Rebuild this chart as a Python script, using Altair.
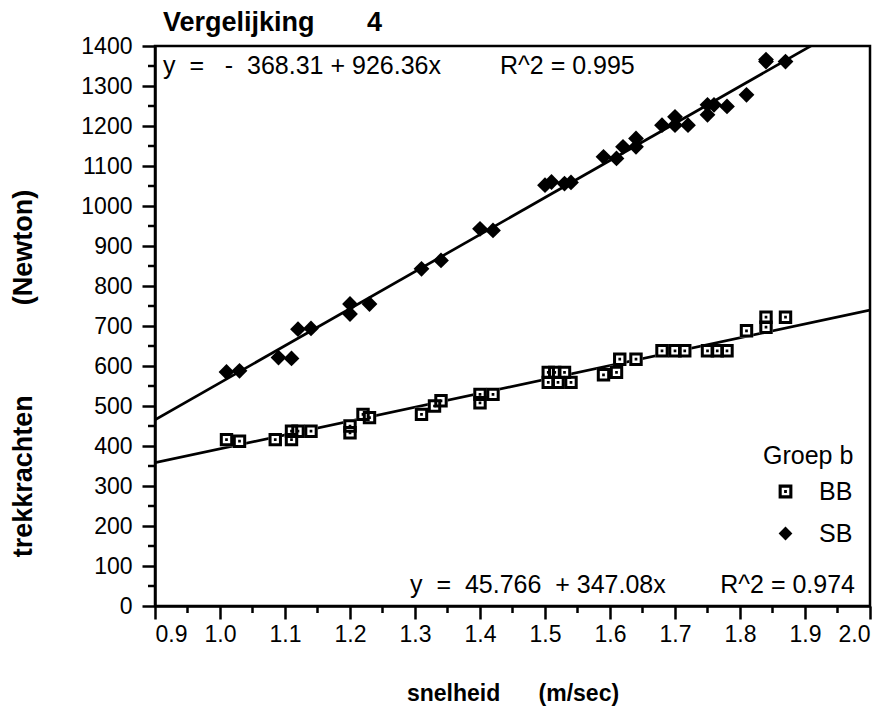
import altair as alt
import pandas as pd

# ---- data ----
bb_x = [1.01, 1.03, 1.085, 1.11, 1.11, 1.12, 1.14, 1.20, 1.20, 1.22, 1.23, 1.31, 1.33, 1.34,
        1.40, 1.40, 1.42, 1.505, 1.515, 1.53, 1.505, 1.52, 1.54, 1.59, 1.61, 1.615, 1.64,
        1.68, 1.70, 1.715, 1.75, 1.765, 1.78, 1.81, 1.84, 1.84, 1.87]
bb_y = [416, 412, 416, 416, 437, 437, 437, 450, 433, 479, 471, 479, 500, 513,
        508, 529, 529, 584, 584, 584, 559, 559, 559, 578, 584, 617, 617,
        638, 638, 638, 638, 638, 638, 688, 697, 722, 722]
sb_x = [1.01, 1.03, 1.09, 1.11, 1.12, 1.14, 1.20, 1.20, 1.23, 1.31, 1.34, 1.40, 1.42,
        1.50, 1.51, 1.53, 1.54, 1.59, 1.61, 1.62, 1.64, 1.64, 1.68, 1.70, 1.70, 1.72,
        1.75, 1.75, 1.76, 1.78, 1.81, 1.84, 1.84, 1.87]
sb_y = [585, 588, 621, 619, 692, 694, 755, 730, 755, 843, 864, 943, 939,
        1052, 1060, 1056, 1059, 1123, 1119, 1148, 1169, 1148, 1202, 1223, 1202, 1202,
        1253, 1228, 1253, 1249, 1278, 1366, 1361, 1361]

groups = ["BB", "SB"]
intercepts = [45.766, -368.31]
slopes = [347.08, 926.36]
r_squared = [0.974, 0.995]

x_domain = [0.9, 2.0]
y_domain = [0, 1400]
x_ticks = [0.9, 1.0, 1.1, 1.2, 1.3, 1.4, 1.5, 1.6, 1.7, 1.8, 1.9, 2.0]
y_ticks = [0, 100, 200, 300, 400, 500, 600, 700, 800, 900, 1000, 1100, 1200, 1300, 1400]
x_minor = [0.95, 1.05, 1.15, 1.25, 1.35, 1.45, 1.55, 1.65, 1.75, 1.85, 1.95]
y_minor = [50, 150, 250, 350, 450, 550, 650, 750, 850, 950, 1050, 1150, 1250, 1350]

NB = "\u00a0"
FONT = "Liberation Sans"

bb_df = pd.DataFrame({"snelheid": bb_x, "kracht": bb_y, "groep": ["BB"] * len(bb_x)})
sb_df = pd.DataFrame({"snelheid": sb_x, "kracht": sb_y, "groep": ["SB"] * len(sb_x)})

fit = pd.DataFrame({
    "groep": [g for g in groups for _ in x_domain],
    "a": [a for a in intercepts for _ in x_domain],
    "b": [b for b in slopes for _ in x_domain],
    "snelheid": x_domain * len(groups),
})


def eq_left(a, b):
    if a < 0:
        return f"y{NB * 2}={NB * 3}-{NB * 2}{abs(a):g}{NB}+{NB}{b:g}x"
    return f"y{NB * 2}={NB * 2}{a:g}{NB * 2}+{NB}{b:g}x"


def eq_right(r2):
    return f"R^2{NB}={NB}{r2:g}"


eq_sb = pd.DataFrame({"label": [eq_left(intercepts[1], slopes[1]), eq_right(r_squared[1])]})
eq_bb = pd.DataFrame({"label": [eq_left(intercepts[0], slopes[0]), eq_right(r_squared[0])]})

RING = ("M-1,-1H1V1H-1Z M-0.55,-0.55V0.55H0.55V-0.55Z "
        "M-0.2,-0.2H0.2V0.2H-0.2Z")

xs = alt.Scale(domain=x_domain, nice=False, zero=False)
ys = alt.Scale(domain=y_domain, nice=False)

x_axis = alt.Axis(values=x_ticks, format=".1f", labelOverlap=False, tickCount=12,
                  title=f"snelheid{NB * 6}(m/sec)",
                  titleY=94, titleBaseline="alphabetic", titleFontSize=23,
                  labelPadding=4)
y_axis = alt.Axis(values=y_ticks, format="d", labelOverlap=False, tickCount=15,
                  title=f"trekkrachten{NB * 12}(Newton)", titleFontSize=27,
                  titleX=-132, titleY=327, titleAngle=270,
                  titleBaseline="middle", titleAlign="center",
                  labelPadding=10)
X = alt.X("snelheid:Q", scale=xs, axis=x_axis)
Y = alt.Y("kracht:Q", scale=ys, axis=y_axis)

shape_scale = alt.Scale(domain=groups, range=[RING, "diamond"])
legend = alt.Legend(title="Groep b", orient="none", legendX=608, legendY=398,
                    symbolOffset=10, labelOffset=21, rowPadding=16,
                    titlePadding=10, padding=0,
                    symbolFillColor="black", symbolStrokeWidth=0, symbolSize=190)

lines = alt.Chart(fit).transform_calculate(
    kracht="datum.a + datum.b * datum.snelheid"
).mark_line(color="black", strokeWidth=2.7, clip=True).encode(
    x=X, y=Y, detail="groep:N"
)

white_sq = alt.Chart(bb_df).mark_point(
    shape="square", filled=True, color="white", size=180, opacity=1
).encode(x=X, y=Y)

bb_pts = alt.Chart(bb_df).mark_point(filled=True, opacity=1, strokeWidth=0, size=180,
                                     color="black").encode(
    x=X, y=Y, shape=alt.Shape("groep:N", scale=shape_scale, legend=legend))

sb_pts = alt.Chart(sb_df).mark_point(filled=True, opacity=1, strokeWidth=0, size=250,
                                     color="black").encode(
    x=X, y=Y, shape=alt.Shape("groep:N", scale=shape_scale, legend=legend))

minor_x = alt.Chart(pd.DataFrame({"snelheid": x_minor})).mark_rule(
    color="black", strokeWidth=2.5
).encode(x=X, y=alt.value(560), y2=alt.value(567))

minor_y = alt.Chart(pd.DataFrame({"kracht": y_minor})).mark_rule(
    color="black", strokeWidth=2.5
).encode(y=Y, x=alt.value(0), x2=alt.value(-7))

txt = dict(baseline="alphabetic", fontSize=25, font=FONT, color="black")

eq_top_l = alt.Chart(eq_sb.iloc[[0]]).mark_text(align="left", **txt).encode(
    x=alt.value(8), y=alt.value(28), text="label:N")
eq_top_r = alt.Chart(eq_sb.iloc[[1]]).mark_text(align="left", **txt).encode(
    x=alt.value(345), y=alt.value(28), text="label:N")
eq_bot_l = alt.Chart(eq_bb.iloc[[0]]).mark_text(align="left", **txt).encode(
    x=alt.value(255), y=alt.value(547), text="label:N")
eq_bot_r = alt.Chart(eq_bb.iloc[[1]]).mark_text(align="right", **txt).encode(
    x=alt.value(700), y=alt.value(547), text="label:N")

title = alt.Chart(pd.DataFrame({"label": [f"Vergelijking{NB * 7}4"]})).mark_text(
    align="left", baseline="alphabetic", fontSize=27, fontWeight="bold", font=FONT, color="black"
).encode(x=alt.value(8), y=alt.value(-15), text="label:N")

chart = alt.layer(lines, white_sq, bb_pts, sb_pts, minor_x, minor_y,
                  eq_top_l, eq_top_r, eq_bot_l, eq_bot_r, title).properties(
    width=715, height=560,
    autosize=alt.AutoSizeParams(type="none"),
    padding={"left": 155, "top": 46, "right": 26, "bottom": 113},
    background="white",
).configure_view(
    stroke="black", strokeWidth=2.5
).configure_axis(
    grid=False, domainColor="black", domainWidth=2.5, tickColor="black", tickWidth=2.5,
    tickSize=13, labelFont=FONT, labelFontSize=23, labelColor="black",
    titleFont=FONT, titleFontWeight="bold", titleColor="black",
).configure_legend(
    titleFont=FONT, titleFontSize=25, titleFontWeight="normal", titleColor="black",
    labelFont=FONT, labelFontSize=25, labelColor="black",
)

chart.save("out.html", embed_options={"renderer": "svg", "actions": False})
